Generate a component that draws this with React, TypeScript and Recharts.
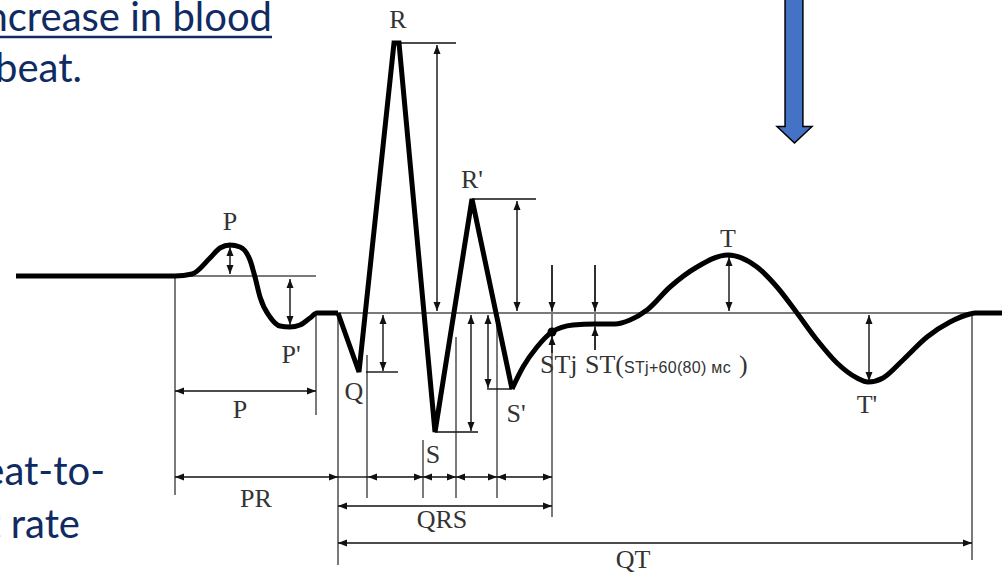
import React from "react";
import {
  ComposedChart, Line, XAxis, YAxis, ReferenceLine, ReferenceDot, ReferenceArea,
} from "recharts";

// t = time position along the strip, amp = deflection from the isoelectric line
const pWave = [
  { t: 16, amp: 37 }, { t: 175, amp: 37 }, { t: 192, amp: 39 }, { t: 210, amp: 55 },
  { t: 220, amp: 65 }, { t: 230, amp: 68 }, { t: 240, amp: 66 }, { t: 250, amp: 53 },
  { t: 255, amp: 36 }, { t: 260, amp: 16 }, { t: 270, amp: -4 }, { t: 280, amp: -13 },
  { t: 290, amp: -14 }, { t: 300, amp: -12 }, { t: 310, amp: -5 }, { t: 317, amp: 0 },
  { t: 338, amp: 0 },
];
const qrsComplex = [
  { t: 338, amp: 0 }, { t: 359, amp: -59 }, { t: 394, amp: 270 }, { t: 399, amp: 270 },
  { t: 435, amp: -119 }, { t: 472, amp: 114 }, { t: 512, amp: -76 },
];
const stTWave = [
  { t: 512, amp: -76 }, { t: 523, amp: -54 }, { t: 537, amp: -34 }, { t: 552, amp: -19 },
  { t: 573, amp: -12 }, { t: 595, amp: -11 }, { t: 615, amp: -11 }, { t: 630, amp: -7 },
  { t: 647, amp: 3 }, { t: 670, amp: 26 }, { t: 697, amp: 46 }, { t: 728, amp: 58 },
  { t: 757, amp: 46 }, { t: 777, amp: 26 }, { t: 797, amp: 0 }, { t: 817, amp: -27 },
  { t: 837, amp: -50 }, { t: 857, amp: -65 }, { t: 868, amp: -69 }, { t: 883, amp: -65 },
  { t: 903, amp: -47 }, { t: 927, amp: -24 }, { t: 950, amp: -9 }, { t: 970, amp: -1 },
  { t: 975, amp: 0 }, { t: 1002, amp: 0 },
];
const stJunction = { t: 552, amp: -19 };

// amplitude arrows: [t, top, bottom]
const ampArrows = [
  [230, 66, 39], [290, 34, -12], [383, -2, -58], [437, 268, 2], [471, -2, -118],
  [488, -2, -75], [517, 112, 2], [729, 56, 2], [869, -2, -68],
];
// one-headed arrows: [t, from, to]
const stArrows = [
  [552, 48, 2], [552, -40, -23], [595, 48, 2], [595, -37, -14],
];
// peak / trough marker ticks: [amp, from t, to t]
const peakTicks = [
  [270, 396, 456], [114, 472, 536], [-59, 366, 398], [-119, 435, 478], [-76, 487, 512],
];
// grey isoelectric lines: [amp, from t, to t]
const isoLines = [[37, 175, 316], [0, 316, 1002]];
// grey interval boundaries: [t, top, bottom]
const boundaries = [
  [175, 37, -182], [316, 0, -102], [338, 0, -252], [367, -42, -185], [423, -127, -185],
  [456, -24, -185], [497, 0, -185], [552, 48, -204], [595, 48, -37], [972, 0, -247],
];
// interval arrows: [amp, from t, to t, heads]
const intervals: [number, number, number, string][] = [
  [-78, 175, 316, "both"], [-164, 175, 338, "both"], [-164, 338, 368, "none"],
  [-164, 368, 423, "both"], [-164, 423, 456, "both"], [-164, 456, 497, "both"],
  [-164, 497, 552, "both"], [-193, 338, 552, "both"], [-230, 338, 972, "both"],
];
const waveLabels: [string, number, number][] = [
  ["R", 398, 285], ["R'", 472, 125], ["P", 230, 83], ["P'", 291, -50], ["P", 240, -105],
  ["Q", 354, -87], ["S", 433, -150], ["S'", 516, -109], ["T", 728, 66], ["T'", 867, -100],
  ["PR", 256, -194], ["QRS", 442, -215], ["QT", 633, -255],
];
const slideText: [string, number, number][] = [
  ["ncrease in blood", 272, 282], ["beat.", 82, 231], ["eat-to-", 105, -172], ["t rate", 80, -225],
];

const INK = "#111";
const GREY = "#7a7a7a";
const NAVY = "#0f2b62";
const LABEL_FONT = "'Liberation Serif', 'DejaVu Serif', serif";

function head(x: number, y: number, a: number, color: string) {
  const L = 9, h = 3.5;
  const bx = x - L * Math.cos(a), by = y - L * Math.sin(a);
  const px = -Math.sin(a) * h, py = Math.cos(a) * h;
  return <polygon points={`${x},${y} ${bx + px},${by + py} ${bx - px},${by - py}`} fill={color} />;
}

const arrowShape = (heads: string, color: string, width: number) => (p: any) => {
  const { x1, y1, x2, y2 } = p;
  const a = Math.atan2(y2 - y1, x2 - x1);
  return (
    <g>
      <line x1={x1} y1={y1} x2={x2} y2={y2} stroke={color} strokeWidth={width} />
      {(heads === "start" || heads === "both") && head(x1, y1, a + Math.PI, color)}
      {(heads === "end" || heads === "both") && head(x2, y2, a, color)}
    </g>
  );
};

const blueArrow = (p: any) => {
  const { x, y, width, height } = p;
  const s1 = x + width * 0.23, s2 = x + width * 0.74, hy = y + height * 0.885;
  const pts = `${s1},${y - 5} ${s2},${y - 5} ${s2},${hy} ${x + width},${hy} ${x + width / 2},${y + height} ${x},${hy} ${s1},${hy}`;
  return <polygon points={pts} fill="#4472c4" stroke="#000" strokeWidth={1.5} />;
};

export default function App() {
  return (
    <div style={{ position: "absolute", left: 0, top: 0, width: 1002, height: 574, background: "#fff" }}>
      <ComposedChart width={1002} height={574} margin={{ top: 0, right: 0, bottom: 0, left: 0 }}>
        <XAxis type="number" dataKey="t" domain={[0, 1002]} hide allowDataOverflow />
        <YAxis type="number" dataKey="amp" domain={[-261, 313]} hide allowDataOverflow />

        {isoLines.map(([a, t1, t2], i) => (
          <ReferenceLine key={`iso${i}`} segment={[{ x: t1, y: a }, { x: t2, y: a }]}
            ifOverflow="visible" stroke={GREY} strokeWidth={2} />
        ))}
        {boundaries.map(([t, a1, a2], i) => (
          <ReferenceLine key={`b${i}`} segment={[{ x: t, y: a1 }, { x: t, y: a2 }]}
            ifOverflow="visible" stroke={GREY} strokeWidth={2} />
        ))}
        {peakTicks.map(([a, t1, t2], i) => (
          <ReferenceLine key={`pk${i}`} segment={[{ x: t1, y: a }, { x: t2, y: a }]}
            ifOverflow="visible" shape={arrowShape("none", INK, 1.4)} />
        ))}
        {ampArrows.map(([t, a1, a2], i) => (
          <ReferenceLine key={`am${i}`} segment={[{ x: t, y: a1 }, { x: t, y: a2 }]}
            ifOverflow="visible" shape={arrowShape("both", INK, 1.4)} />
        ))}
        {stArrows.map(([t, a1, a2], i) => (
          <ReferenceLine key={`st${i}`} segment={[{ x: t, y: a1 }, { x: t, y: a2 }]}
            ifOverflow="visible" shape={arrowShape("end", INK, 1.4)} />
        ))}
        {intervals.map(([a, t1, t2, h], i) => (
          <ReferenceLine key={`iv${i}`} segment={[{ x: t1, y: a }, { x: t2, y: a }]}
            ifOverflow="visible" shape={arrowShape(h, INK, 1.4)} />
        ))}

        <Line data={pWave} dataKey="amp" type="monotone" stroke="#000" strokeWidth={5}
          dot={false} activeDot={false} legendType="none" isAnimationActive={false} />
        <Line data={qrsComplex} dataKey="amp" type="linear" stroke="#000" strokeWidth={5}
          dot={false} activeDot={false} legendType="none" isAnimationActive={false} />
        <Line data={stTWave} dataKey="amp" type="monotone" stroke="#000" strokeWidth={5}
          dot={false} activeDot={false} legendType="none" isAnimationActive={false} />
        <ReferenceDot x={stJunction.t} y={stJunction.amp} r={4.5} fill="#000" stroke="none" />

        {waveLabels.map(([txt, t, a], i) => (
          <ReferenceDot key={`lb${i}`} x={t} y={a} ifOverflow="visible"
            shape={(p: any) => (
              <text x={p.cx} y={p.cy} textAnchor="middle" fontFamily={LABEL_FONT}
                fontSize={26} fill="#333">{txt}</text>
            )} />
        ))}
        <ReferenceDot x={540} y={-60} ifOverflow="visible"
          shape={(p: any) => (
            <text x={p.cx} y={p.cy} fontFamily={LABEL_FONT} fontSize={26} fill="#333">STj</text>
          )} />
        <ReferenceDot x={585} y={-60} ifOverflow="visible"
          shape={(p: any) => (
            <text x={p.cx} y={p.cy} fontFamily={LABEL_FONT} fontSize={26} fill="#333">
              ST(<tspan fontSize={16} fontFamily="'Liberation Sans', sans-serif" letterSpacing={0.3}>STj+60(80) мс</tspan>
              <tspan dx={8}>)</tspan>
            </text>
          )} />

        {slideText.map(([txt, t, a], i) => (
          <ReferenceDot key={`sl${i}`} x={t} y={a} ifOverflow="visible"
            shape={(p: any) => (
              <text x={p.cx} y={p.cy} textAnchor="end" fontFamily="Lato, 'Open Sans', sans-serif"
                fontSize={40} fill={NAVY}>{txt}</text>
            )} />
        ))}
        <ReferenceLine segment={[{ x: 0, y: 276 }, { x: 272, y: 276 }]} ifOverflow="visible"
          stroke={NAVY} strokeWidth={2.5} />

        <ReferenceArea x1={777} x2={812} y1={170} y2={313} ifOverflow="visible" shape={blueArrow} />
      </ComposedChart>
    </div>
  );
}
